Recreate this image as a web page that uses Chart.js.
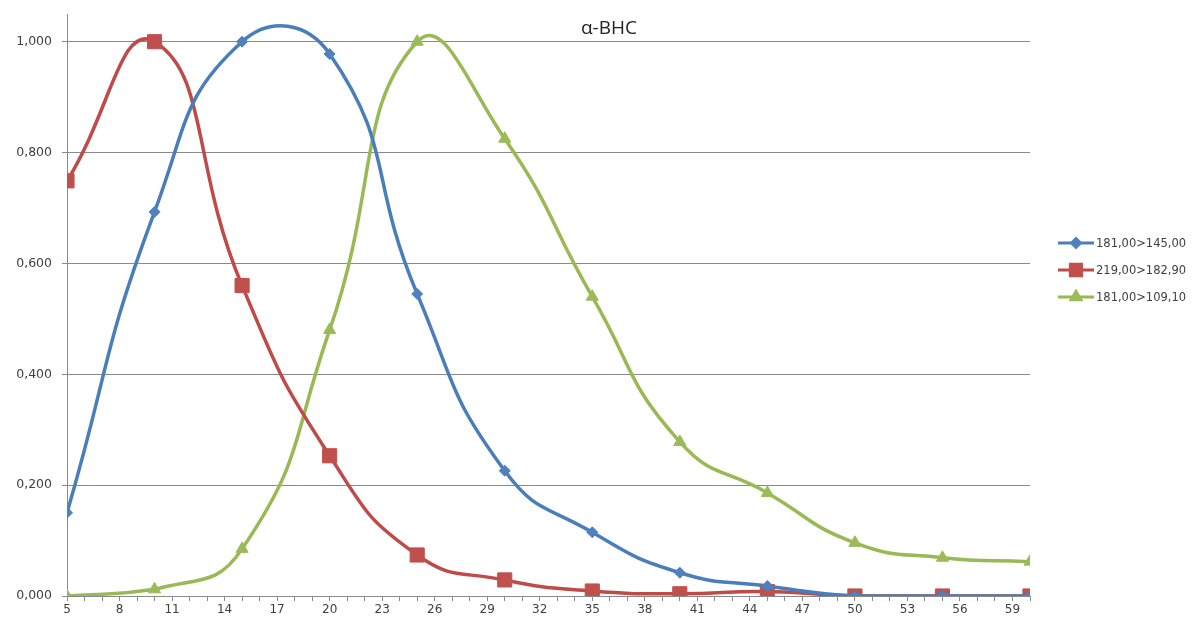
<!DOCTYPE html>
<html>
<head>
<meta charset="utf-8">
<script src="https://cdn.jsdelivr.net/npm/chart.js@4.4.0/dist/chart.umd.min.js"></script>
<style>
  html, body { margin: 0; padding: 0; background: #fff; }
  #wrap { width: 1203px; height: 628px; position: relative; }
</style>
</head>
<body>
<div id="wrap"><canvas id="bhcChart"></canvas></div>
<script>
// retention time (x) and normalised response for each transition
const times = [5, 10, 15, 20, 25, 30, 35, 40, 45, 50, 55, 60];
const series145 = [0.150, 0.693, 1.000, 0.978, 0.545, 0.226, 0.115, 0.042, 0.018, 0.000, 0.000, 0.000];
const series182 = [0.749, 1.000, 0.560, 0.253, 0.074, 0.029, 0.009, 0.004, 0.008, 0.000, 0.000, 0.000];
const series109 = [0.000, 0.012, 0.085, 0.480, 1.000, 0.825, 0.540, 0.278, 0.186, 0.096, 0.069, 0.062];
const seriesNames = ['181,00>145,00', '219,00>182,90', '181,00>109,10'];
const chartTitle = 'α-BHC';

const gridGray = '#8a8a8a';
const labelColor = '#404040';

function toPoints(values) {
  return values.map((v, i) => ({ x: times[i], y: v }));
}

// Legend drawn as line + marker like the spreadsheet original
const sideLegend = {
  id: 'sideLegend',
  afterDraw(chart) {
    const ctx = chart.ctx;
    const rows = [243, 270, 297];
    ctx.save();
    chart.data.datasets.forEach((ds, i) => {
      const y = rows[i];
      ctx.strokeStyle = ds.borderColor;
      ctx.lineWidth = 3;
      ctx.beginPath();
      ctx.moveTo(1058, y);
      ctx.lineTo(1094, y);
      ctx.stroke();
      ctx.fillStyle = ds.pointBackgroundColor;
      ctx.strokeStyle = ds.pointBorderColor;
      Chart.helpers.drawPoint(ctx, {
        pointStyle: ds.pointStyle,
        radius: ds.pointRadius * 0.8,
        rotation: 0,
        borderWidth: 1
      }, 1076, y);
      ctx.fillStyle = labelColor;
      ctx.font = '11.5px "DejaVu Sans"';
      ctx.textAlign = 'left';
      ctx.textBaseline = 'middle';
      ctx.fillText(ds.label, 1096, y + 1);
    });
    // chart title sits inside the plot area
    ctx.fillStyle = '#222';
    ctx.font = '19px "Open Sans"';
    ctx.textAlign = 'center';
    ctx.textBaseline = 'middle';
    ctx.fillText(chartTitle, 609, 29);
    ctx.restore();
  }
};

const ctx = document.getElementById('bhcChart');

new Chart(ctx, {
  type: 'line',
  data: {
    datasets: [
      {
        label: seriesNames[0],
        data: toPoints(series145),
        borderColor: '#4a7ebb',
        pointBackgroundColor: '#4f81bd',
        pointBorderColor: '#4f81bd',
        pointStyle: 'rectRot',
        pointRadius: 5.5
      },
      {
        label: seriesNames[1],
        data: toPoints(series182),
        borderColor: '#be4b48',
        pointBackgroundColor: '#c0504d',
        pointBorderColor: '#c0504d',
        pointStyle: 'rect',
        pointRadius: 10
      },
      {
        label: seriesNames[2],
        data: toPoints(series109),
        borderColor: '#98b954',
        pointBackgroundColor: '#9bbb59',
        pointBorderColor: '#9bbb59',
        pointStyle: 'triangle',
        pointRadius: 7
      }
    ].map(ds => ({ ...ds, borderWidth: 3.5, tension: 0.5, fill: false, pointBorderWidth: 1 }))
  },
  options: {
    responsive: true,
    maintainAspectRatio: false,
    animation: false,
    layout: { padding: { top: 14, right: 173, left: 0, bottom: 0 } },
    plugins: {
      legend: { display: false },
      tooltip: { enabled: false }
    },
    scales: {
      x: {
        type: 'linear',
        min: 5,
        max: 60,
        afterFit: (scale) => { scale.height = 32; },
        border: { display: true, color: gridGray, width: 1 },
        grid: { drawOnChartArea: false, drawTicks: true, tickLength: 5, color: gridGray },
        ticks: {
          stepSize: 1,
          maxTicksLimit: 100,
          autoSkip: false,
          maxRotation: 0,
          padding: 2,
          color: labelColor,
          font: { family: 'DejaVu Sans', size: 12 },
          callback: function (value) {
            return (value - 5) % 3 === 0 ? String(value) : '';
          }
        }
      },
      y: {
        min: 0,
        max: 1.05,
        afterFit: (scale) => {
          scale.width = 67;
          scale.paddingTop = 0;
          scale.paddingBottom = 0;
        },
        afterBuildTicks: (scale) => {
          scale.ticks = scale.ticks.filter(t => Math.abs(t.value * 5 - Math.round(t.value * 5)) < 1e-6);
        },
        border: { display: true, color: gridGray, width: 1 },
        grid: { color: gridGray, tickLength: 5, lineWidth: 1 },
        ticks: {
          stepSize: 0.2,
          padding: 10,
          color: labelColor,
          font: { family: 'DejaVu Sans', size: 12.5 },
          callback: function (value) {
            return value.toFixed(3).replace('.', ',');
          }
        }
      }
    }
  },
  plugins: [sideLegend]
});
</script>
</body>
</html>
